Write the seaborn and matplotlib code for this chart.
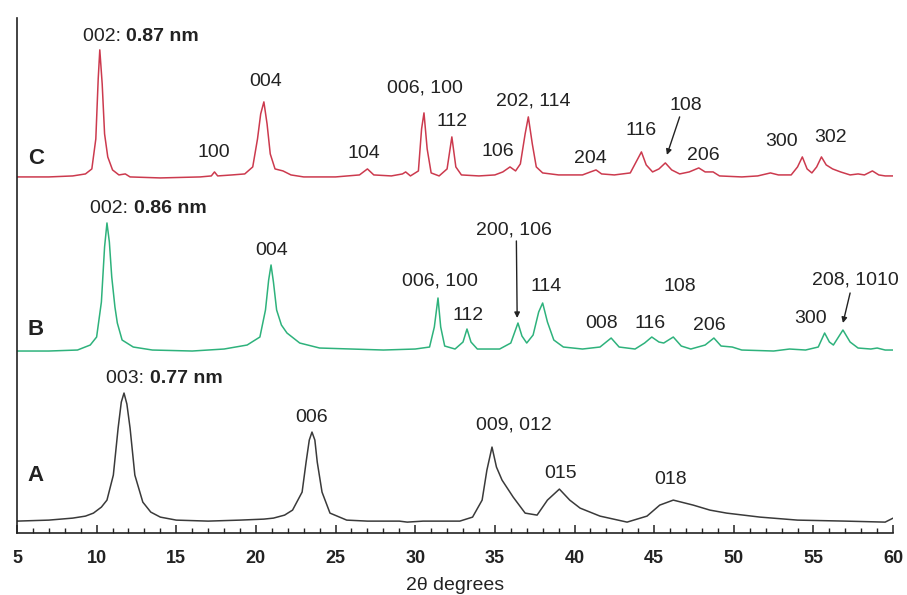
import pandas as pd
import matplotlib.pyplot as plt
import seaborn as sns
from matplotlib.ticker import MultipleLocator

# ---- data (2theta in degrees, intensity in a.u. above each baseline) ----
two_theta_A = [5, 7, 8.5, 9.3, 9.8, 10.3, 10.65, 11.05, 11.35, 11.55, 11.72, 11.9, 12.1, 12.4, 12.9,
               13.4, 14.0, 15, 17, 19, 20.5, 21.1, 21.8, 22.3, 22.9, 23.15, 23.35, 23.52, 23.7, 23.85,
               24.15, 24.65, 25.7, 27, 29, 29.5, 30.5, 32, 32.8, 33.6, 34.2, 34.5, 34.82, 35.1, 35.45,
               36.15, 36.9, 37.65, 38.3, 39.05, 39.7, 40.35, 41.6, 43.3, 44.55, 45.35, 46.2, 47.45,
               48.5, 49.55, 51.65, 54, 57, 59.5, 60]
intensity_A = [1, 2, 4, 6, 9, 15, 22, 47, 94, 120, 129, 118, 94, 47, 20,
               10, 5, 2, 1, 2, 3, 4, 7, 12, 30, 60, 82, 90, 82, 60,
               30, 9, 2, 1, 1, 0, 1, 1, 1, 5, 22, 52, 75, 55, 42,
               25, 9, 7, 22, 33, 22, 14, 6, 0, 6, 17, 22, 17,
               12, 9, 5, 2, 1, 0, 4]

two_theta_B = [5, 7, 8.8, 9.6, 10.0, 10.3, 10.5, 10.65, 10.8, 10.95, 11.15, 11.3, 11.6, 12.3, 13.5,
               16, 18, 19.45, 20.25, 20.6, 20.8, 20.95, 21.1, 21.3, 21.6, 21.95, 22.75, 24, 26, 28,
               30, 30.9, 31.2, 31.43, 31.6, 31.85, 32.5, 33.0, 33.25, 33.5, 33.9, 35.3, 36.0, 36.45,
               36.7, 37.0, 37.4, 37.75, 38.0, 38.3, 38.7, 39.3, 40.5, 41.6, 42.3, 42.8, 43.8, 44.4,
               44.85, 45.3, 45.6, 46.2, 46.7, 47.3, 48.2, 48.75, 49.2, 49.9, 50.5, 52.5, 53.5, 54.5,
               55.3, 55.7, 56.0, 56.25, 56.85, 57.3, 57.8, 58.6, 59.0, 59.5, 60]
intensity_B = [1, 1, 2, 7, 15, 50, 105, 129, 110, 75, 45, 29, 12, 5, 2,
               1, 3, 7, 15, 42, 72, 87, 70, 42, 27, 19, 9, 4, 3, 2,
               3, 5, 25, 54, 25, 6, 3, 10, 23, 10, 3, 3, 9, 29,
               16, 9, 17, 40, 49, 30, 12, 5, 3, 5, 14, 5, 3, 9,
               15, 10, 9, 15, 6, 3, 7, 14, 6, 5, 2, 1, 3, 2,
               5, 19, 10, 7, 22, 10, 4, 3, 4, 2, 2]

two_theta_C = [5, 7, 8.5, 9.3, 9.7, 9.95, 10.1, 10.2, 10.35, 10.5, 10.7, 11.0, 11.4, 11.8, 12.1,
               14, 16.5, 17.2, 17.4, 17.6, 18.5, 19.3, 19.8, 20.1, 20.3, 20.5, 20.7, 20.9, 21.2,
               21.7, 22.2, 23, 25, 26.5, 27.0, 27.4, 28.5, 29.2, 29.4, 29.7, 30.2, 30.4, 30.55,
               30.75, 31.0, 31.5, 32.0, 32.3, 32.55, 32.9, 34, 35, 35.5, 35.95, 36.3, 36.6, 36.9,
               37.1, 37.35, 37.6, 38.0, 39, 40.5, 41.0, 41.35, 41.7, 42.5, 43.5, 43.9, 44.2, 44.5,
               44.9, 45.3, 45.7, 46.1, 46.6, 47.2, 47.8, 48.2, 48.7, 49.1, 50.5, 51.5, 52.3, 52.8,
               53.6, 54.0, 54.3, 54.6, 54.9, 55.2, 55.5, 55.8, 56.2, 56.7, 57.3, 57.8, 58.2, 58.7,
               59.1, 59.5, 60]
intensity_C = [2, 2, 3, 5, 10, 40, 100, 129, 95, 45, 22, 9, 4, 5, 2,
               1, 2, 3, 7, 3, 4, 5, 12, 40, 65, 77, 55, 25, 10,
               8, 4, 2, 2, 4, 10, 4, 3, 5, 7, 3, 8, 50, 66,
               30, 6, 3, 10, 42, 12, 4, 3, 4, 7, 12, 8, 15, 45,
               62, 35, 12, 6, 4, 4, 7, 9, 5, 4, 6, 18, 27, 14,
               7, 10, 16, 9, 5, 7, 11, 7, 7, 3, 2, 3, 6, 4,
               4, 12, 22, 10, 6, 12, 22, 14, 10, 7, 4, 5, 4, 8,
               4, 3, 3]

offsets = {"A": 11, "B": 181, "C": 354}
colors = {"A": "#3a3a3a", "B": "#2eb27c", "C": "#cc3a4e"}

frames = []
for s, tt, inten in [("A", two_theta_A, intensity_A),
                     ("B", two_theta_B, intensity_B),
                     ("C", two_theta_C, intensity_C)]:
    d = pd.DataFrame({"two_theta": tt, "intensity": inten})
    d["intensity"] = d["intensity"] + offsets[s]
    d["sample"] = s
    frames.append(d)
df = pd.concat(frames, ignore_index=True)

sns.set_theme(style="white")
plt.rcParams["font.family"] = ["Liberation Sans", "DejaVu Sans"]

fig = plt.figure(figsize=(9.07, 5.95), dpi=100)
ax = fig.add_axes([0.0187, 0.104, 0.966, 0.866])

sns.lineplot(data=df, x="two_theta", y="intensity", hue="sample", palette=colors,
             estimator=None, sort=False, legend=False, linewidth=1.1, ax=ax)

ax.set_xlim(5, 60)
ax.set_ylim(0, 515)
ax.set_yticks([])
ax.set_ylabel("")
ax.set_xlabel("2θ degrees", fontsize=14, color="#222222", labelpad=7)
ax.set_xticks(range(5, 61, 5))
ax.xaxis.set_minor_locator(MultipleLocator(1))
ax.tick_params(axis="x", which="major", direction="in", length=6, width=1.1, pad=12,
               labelsize=13, colors="#222222", bottom=True)
ax.tick_params(axis="x", which="minor", direction="in", length=3.5, width=1.0, bottom=True,
               colors="#222222")
for lab in ax.get_xticklabels():
    lab.set_fontweight("bold")
sns.despine(ax=ax)
for sp in ["left", "bottom"]:
    ax.spines[sp].set_color("#222222")
    ax.spines[sp].set_linewidth(1.2)

# sample letters
for s, (x, y) in {"A": (6.15, 58), "B": (6.15, 204), "C": (6.2, 374)}.items():
    ax.text(x, y, s, fontsize=16, fontweight="bold", ha="center", va="center", color="#222222")

# d-spacing labels with bold value
for x, y, hkl, d in [(9.14, 496, "002: ", "0.87 nm"),
                     (9.6, 324, "002: ", "0.86 nm"),
                     (10.6, 155, "003: ", "0.77 nm")]:
    t = ax.text(x, y, hkl, fontsize=14, ha="left", va="center", color="#222222")
    ax.annotate(d, xy=(1, 0), xycoords=t, ha="left", va="bottom", fontsize=14,
                fontweight="bold", color="#222222")

peak_labels = [
    # C
    ("100", 17.37, 380), ("004", 20.63, 451), ("104", 26.8, 379), ("006, 100", 30.6, 445),
    ("112", 32.3, 411), ("106", 35.2, 381), ("202, 114", 37.4, 432), ("204", 41.0, 374),
    ("116", 44.2, 402), ("108", 47.0, 427), ("206", 48.06, 377), ("300", 53.0, 391),
    ("302", 56.1, 395),
    # B
    ("004", 21.0, 282), ("006, 100", 31.55, 252), ("112", 33.3, 218), ("200, 106", 36.2, 303),
    ("114", 38.2, 246), ("008", 41.7, 210), ("116", 44.75, 210), ("108", 46.6, 246),
    ("206", 48.45, 208), ("300", 54.8, 215), ("208, 1010", 57.6, 253),
    # A
    ("006", 23.5, 116), ("009, 012", 36.2, 108), ("015", 39.15, 60), ("018", 46.0, 54),
]
for txt, x, y in peak_labels:
    ax.text(x, y, txt, fontsize=14, ha="center", va="center", color="#222222")

arrows = [((46.6, 416), (45.8, 378)), ((36.35, 292), (36.4, 215)), ((57.3, 240), (56.85, 210))]
for start, end in arrows:
    ax.annotate("", xy=end, xytext=start,
                arrowprops=dict(arrowstyle="-|>", color="#222222", lw=1.0, mutation_scale=8,
                                shrinkA=0, shrinkB=0))

fig.savefig("out.png", dpi=100)
